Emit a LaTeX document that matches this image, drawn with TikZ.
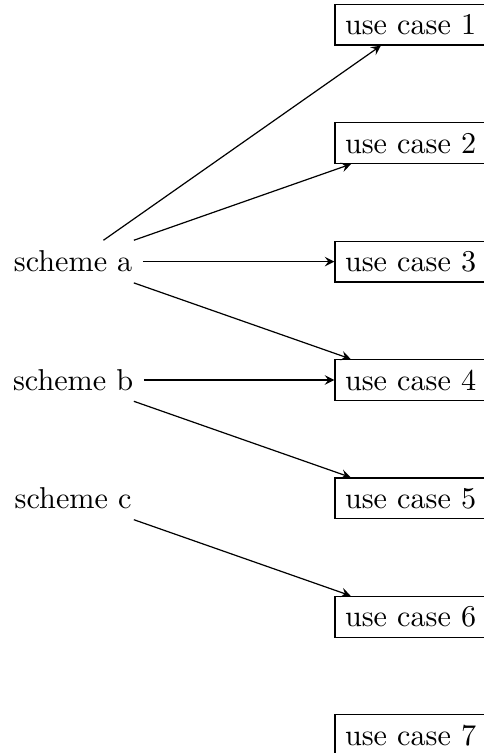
\documentclass[tikz,border=0pt]{standalone}
\begin{document}
\begin{tikzpicture}[
  usecase/.style={draw, anchor=west},
  scheme/.style={},
  link/.style={-stealth}
]
\useasboundingbox (0,0) rectangle (160pt,-249.3pt);

% use cases, stacked on the right
\foreach \i/\y in {1/-8.2,2/-47.4,3/-86.6,4/-125.8,5/-165.0,6/-204.2,7/-243.4}
  \node[usecase] (uc\i) at (110.7pt,\y pt) {use case \i};

% schemes on the left
\node[scheme] (sa) at (24.2pt,-86.6pt) {scheme a};
\node[scheme] (sb) at (24.2pt,-125.8pt) {scheme b};
\node[scheme] (sc) at (24.2pt,-165.0pt) {scheme c};

% links from schemes to use cases
\draw[link] (sa) -- (uc1);
\draw[link] (sa) -- (uc2);
\draw[link] (sa) -- (uc3);
\draw[link] (sa) -- (uc4);
\draw[link] (sb) -- (uc4);
\draw[link] (sb) -- (uc5);
\draw[link] (sc) -- (uc6);
\end{tikzpicture}
\end{document}
